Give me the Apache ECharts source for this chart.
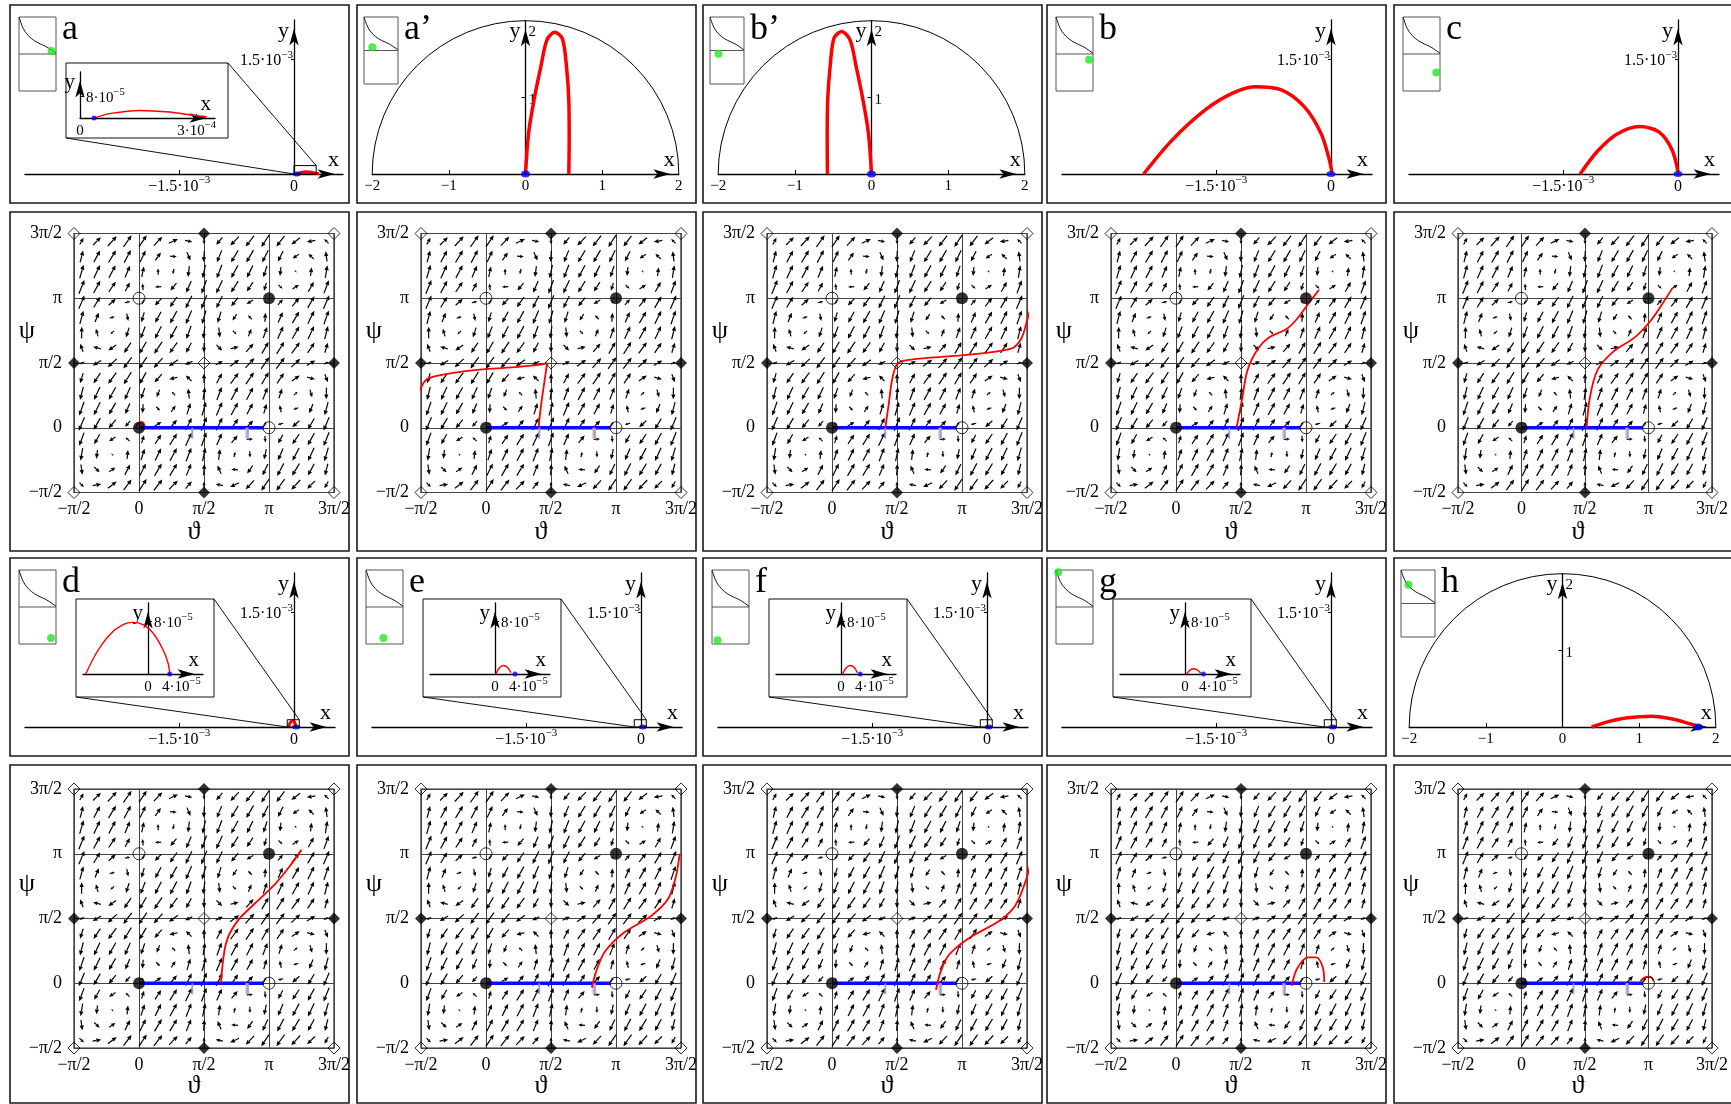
<!DOCTYPE html>
<html><head><meta charset="utf-8">
<script src="https://cdn.jsdelivr.net/npm/echarts@6/dist/echarts.min.js"></script>
<style>html,body{margin:0;padding:0;background:#fff}#c{width:1731px;height:1104px}</style>
</head><body><div id="c"></div><script>
const PI = Math.PI;
// ---------------- DATA ----------------
const panelLabels = ['a', 'a\u2019', 'b\u2019', 'b', 'c', 'd', 'e', 'f', 'g', 'h'];
const topType = ['zoomA', 'circle', 'circle', 'plain', 'plain', 'zoomD', 'zoomD', 'zoomD', 'zoomD', 'circle'];
// parameter mini-diagram (fractions of the box, y measured from top)
const paramCurve = [[0,0],[0.045,0.068],[0.117,0.158],[0.207,0.225],[0.342,0.293],[0.52,0.35],[0.75,0.405],[1,0.49]];
const paramMid = [[0,0.5],[1,0.5]];
const greenDot = [[0.88,0.46],[0.245,0.45],[0.25,0.55],[0.895,0.577],[0.9,0.75],[0.865,0.92],[0.47,0.92],[0.15,0.95],[0.06,0.03],[0.22,0.22]];
// top trajectories: b, c in units of 1e-3; a', b', h in plain units
const curveB = [[-2.45,0],[-2.08,0.44],[-1.64,0.84],[-1.30,1.05],[-1.0,1.14],[-0.65,1.10],[-0.35,0.88],[-0.13,0.53],[-0.02,0.18],[0.01,0.03]];
const curveC = [[-1.28,0],[-1.05,0.3],[-0.8,0.52],[-0.5,0.62],[-0.25,0.55],[-0.08,0.32],[0,0.03]];
const curveA1 = [[0,0],[0.04,0.53],[0.11,0.96],[0.2,1.4],[0.28,1.75],[0.38,1.85],[0.48,1.77],[0.535,1.40],[0.565,0.96],[0.57,0.44],[0.565,0]];
const curveB1 = [[0,0],[-0.04,0.53],[-0.11,0.96],[-0.2,1.4],[-0.28,1.75],[-0.39,1.86],[-0.49,1.77],[-0.54,1.40],[-0.572,0.96],[-0.578,0.44],[-0.575,0]];
const curveH = [[0.38,0],[0.6,0.07],[0.85,0.12],[1.16,0.14],[1.4,0.11],[1.6,0.06],[1.725,0.02]];
const blueTop = {1:[0,0], 2:[0,0], 3:[0,0], 4:[0,0], 9:[1.77,0]};
// zoomed insets: a in units of 1e-4, d-g in units of 1e-5
const insetCurve = {
  0: [[0.36,0],[0.8,0.17],[1.54,0.28],[2.3,0.22],[2.9,0.1],[3.26,0.04]],
  5: [[-7.46,0],[-6.18,3.19],[-4.59,5.97],[-3.0,7.49],[-1.8,7.85],[-0.6,7.49],[0.6,6.23],[1.8,3.69],[2.4,1.67],[2.6,0.1]],
  6: [[0.1,0],[0.5,0.9],[1.0,1.3],[1.5,1.0],[1.9,0.2]],
  7: [[0.2,0],[0.6,0.9],[1.1,1.3],[1.6,1.0],[1.95,0.2]],
  8: [[0.2,0],[0.6,0.6],[1.1,0.8],[1.6,0.5],[1.9,0.1]]
};
const insetBlue = {0:[0.36,0], 5:[2.6,0], 6:[2.4,0], 7:[2.3,0], 8:[2.2,0]};
const zoomBoxA = [0, 0.29, 0, 0.11];          // 1e-3
const zoomBoxD = [-0.088, 0.069, 0, 0.095];   // 1e-3
// phase-plane trajectories (units of pi)
const phaseCurve = [
  [[-0.026,-0.005],[-0.013,0.026],[0.013,0.046],[0.033,0.038],[0.044,0.013]],
  [[0.405,0],[0.42,0.147],[0.45,0.36],[0.47,0.50],[0.42,0.487],[0.25,0.47],[-0.087,0.445],[-0.38,0.40],[-0.47,0.36],[-0.53,0.23],[-0.59,0]],
  [[0.41,0],[0.436,0.18],[0.46,0.36],[0.487,0.465],[0.513,0.504],[0.577,0.522],[0.782,0.543],[1.038,0.563],[1.295,0.594],[1.397,0.62],[1.46,0.697],[1.5,0.826],[1.538,0.954],[1.57,1.0]],
  [[0.466,0],[0.51,0.23],[0.55,0.445],[0.634,0.615],[0.72,0.70],[0.847,0.76],[0.93,0.84],[1.016,0.955],[1.1,1.066]],
  [[0.513,0],[0.538,0.23],[0.598,0.445],[0.725,0.59],[0.895,0.70],[1.02,0.83],[1.108,0.955],[1.19,1.08]],
  [[0.63,0],[0.67,0.31],[0.757,0.48],[0.927,0.65],[1.05,0.77],[1.156,0.9],[1.25,1.03]],
  [[0.814,-0.035],[0.847,0.09],[0.915,0.245],[1.06,0.39],[1.27,0.52],[1.4,0.65],[1.46,0.82],[1.49,1.0]],
  [[0.80,-0.05],[0.836,0.09],[0.9,0.22],[1.056,0.35],[1.285,0.48],[1.41,0.6],[1.5,0.82],[1.54,1.0]],
  [[0.89,-0.02],[0.93,0.11],[1.016,0.2],[1.08,0.2],[1.13,0.12],[1.14,0.01]],
  [[0.936,0.014],[0.962,0.04],[1.0,0.053],[1.03,0.04],[1.04,0.014]]
];
const blueSegment = [[0,0],[0.96,0]];
const tickTheta = [0.41, 0.826, 0.838];
const tickColor = ['#88a4f0', '#f2a2aa', '#88a4f0'];
const tickDepth = -0.085;
const fixedFilledCircle = [[0,0],[1,1]];
const fixedOpenCircle = [[0,1],[1,0]];
const fixedFilledDiamond = [[0.5,-0.5],[0.5,1.5],[-0.5,0.5],[1.5,0.5]];
const fixedOpenDiamond = [[0.5,0.5],[-0.5,-0.5],[1.5,-0.5],[-0.5,1.5],[1.5,1.5]];
// direction field on a 17x17 lattice: rows from top (psi high) to bottom; angle in degrees, length in % of lattice step
const fieldAngle = [
 [62,45,48,55,56,47,25,-12,-89,-130,-134,-128,-123,-127,-142,-171,135],
 [76,62,59,62,65,55,-5,-67,-94,-112,-121,-120,-116,-117,-145,135,98],
 [74,65,62,67,78,92,-102,-97,-102,-111,-118,-116,-108,-96,-45,83,81],
 [68,62,56,62,95,-178,-129,-113,-110,-115,-122,-123,-107,-45,33,61,70],
 [67,59,42,14,-118,-133,-125,-116,-112,-116,-129,-149,135,49,50,60,67],
 [75,68,20,-78,-106,-118,-119,-113,-106,-107,-124,135,86,67,60,64,71],
 [89,106,-137,-108,-111,-117,-118,-110,-98,-84,-45,68,71,66,61,65,76],
 [110,164,-145,-124,-120,-124,-126,-118,-91,-45,13,49,60,58,54,56,73],
 [-158,-150,-137,-127,-125,-132,-144,-155,135,25,36,48,55,53,43,30,22],
 [-107,-124,-126,-122,-120,-131,-167,135,89,62,54,56,60,56,35,-16,-70],
 [-104,-115,-119,-114,-109,-112,135,96,82,70,62,63,69,72,43,-74,-91],
 [-109,-116,-120,-113,-94,-45,56,73,74,67,61,62,74,102,-160,-112,-105],
 [-113,-120,-130,-131,-45,31,51,64,68,64,55,47,62,-166,-138,-121,-113],
 [-110,-119,-147,135,73,57,58,65,70,67,51,2,-85,-118,-124,-118,-112],
 [-99,-97,135,84,72,64,62,69,78,83,78,-88,-102,-113,-118,-115,-106],
 [-82,-45,35,63,64,60,59,68,86,113,175,-125,-115,-118,-121,-118,-104],
 [-45,9,38,53,57,52,46,50,91,168,-155,-133,-124,-125,-132,-135,-118]
];
const fieldLength = [
 [53,75,89,96,94,83,67,50,43,65,83,93,96,90,75,59,42],
 [82,91,97,96,86,65,45,62,77,87,95,97,92,77,52,51,70],
 [96,99,96,87,72,43,38,75,92,98,98,92,81,60,16,60,86],
 [100,95,84,67,45,42,65,87,99,99,91,76,56,38,52,77,94],
 [97,85,65,38,35,65,84,96,100,92,75,53,23,52,75,91,99],
 [91,68,36,50,70,85,95,100,96,81,52,37,61,78,91,98,99],
 [79,53,34,69,88,96,98,94,86,68,34,54,80,93,97,96,91],
 [58,54,65,84,95,96,90,77,63,54,57,75,91,97,94,84,70],
 [36,66,83,94,96,89,76,54,0,54,76,89,96,94,83,66,36],
 [70,84,94,97,91,75,57,54,63,77,90,96,95,84,65,54,58],
 [91,96,97,93,80,54,34,68,86,94,98,96,88,69,34,53,79],
 [99,98,91,78,61,37,52,81,96,100,95,85,70,50,36,68,91],
 [99,91,75,52,23,53,75,92,100,96,84,65,35,38,65,85,97],
 [94,77,52,38,56,76,91,99,99,87,65,42,45,67,84,95,100],
 [86,60,16,60,81,92,98,98,92,75,38,43,72,87,96,99,96],
 [70,51,52,77,92,97,95,87,77,62,45,65,86,96,97,91,82],
 [42,59,75,90,96,93,83,65,43,50,67,83,94,96,89,75,53]
];
const fieldN = 17;

// ---------------- LAYOUT ----------------
const PL = [10, 357, 703, 1047, 1394];
const RT = [5, 558];
const PH_TOP = [228.5, 231];
const FONT = 'Liberation Serif';
const grid=[], xAxis=[], yAxis=[], series=[], graphic=[];
function cart(g, xa, ya){ const i=grid.length; grid.push(g); xa.gridIndex=i; ya.gridIndex=i; xAxis.push(xa); yAxis.push(ya); return i; }
function ser(i, s){ s.xAxisIndex=i; s.yAxisIndex=i; series.push(s); }
const richSup = { n:{fontFamily:FONT, fontSize:16, color:'#000', lineHeight:20, verticalAlign:'bottom'},
                  s:{fontFamily:FONT, fontSize:11, color:'#000', lineHeight:20, verticalAlign:'top'} };
const richSmall = { n:{fontFamily:FONT, fontSize:15, color:'#000', lineHeight:19, verticalAlign:'bottom'},
                  s:{fontFamily:FONT, fontSize:10.5, color:'#000', lineHeight:19, verticalAlign:'top'} };
const sci = (m,e) => '{n|'+m+'\u00b710}{s|'+e+'}';
const arrowLine = () => ({show:true, onZero:false, symbol:['none','arrow'], symbolSize:[7,17], symbolOffset:[0,-8.5], lineStyle:{color:'#000', width:1.3}});
const xName = (fs) => ({name:'x', nameLocation:'end', nameGap:-4, nameTextStyle:{fontFamily:FONT, fontSize:fs||22, color:'#000', align:'right', verticalAlign:'bottom', padding:[0,0,3,0]}});
const yName = (fs) => ({name:'y', nameLocation:'end', nameGap:0, nameTextStyle:{fontFamily:FONT, fontSize:fs||22, color:'#000', align:'right', verticalAlign:'top', padding:[0,5,0,0]}});
const lineS = (data, color, w, extra) => Object.assign({type:'line', data, symbol:'none', clip:false, smooth:0.3, lineStyle:{color, width:w}, silent:true, animation:false}, extra||{});
const dotS = (data, color, size, extra) => Object.assign({type:'scatter', data, symbol:'circle', symbolSize:size, itemStyle:{color}, clip:false, silent:true, animation:false}, extra||{});

// lattice of the direction field (lattice step = 2*pi/17, centred cells)
const fieldStep = 2*PI/fieldN;
const fieldData = [];
fieldAngle.forEach((row, r) => row.forEach((ang, i) => {
  const j = fieldN - 1 - r;
  fieldData.push([-PI/2 + (i+0.5)*fieldStep, -PI/2 + (j+0.5)*fieldStep, ang, fieldLength[r][i]/100*0.97*fieldStep]);
}));

function paramInset(L,T,k,small){
  const r = small ? [7,12,34,67] : [9,12,37,74];
  const i = cart({left:L+r[0], top:T+r[1], width:r[2], height:r[3], show:true, borderColor:'#555', borderWidth:1, backgroundColor:'transparent'},
    {type:'value', min:0, max:1, show:false}, {type:'value', min:0, max:1, inverse:true, show:false});
  ser(i, lineS(paramMid, '#555', 1, {smooth:false}));
  ser(i, lineS(paramCurve, '#111', 1, {smooth:0.4}));
  ser(i, dotS([greenDot[k]], '#22e622', 8, {z:5}));
  return r;
}

function mainPlot(L,T,k){
  const ox=284, oy=169, s=76.5, xt=(k===0?333:325), yt=15;
  return cart({left:L+15, top:T+yt, width:xt-15, height:oy-yt},
    Object.assign({type:'value', position:'bottom', min:-(ox-15)/s, max:(xt-ox)/s, axisLine:arrowLine(), splitLine:{show:false},
      axisTick:{show:true, customValues:[-1.5], inside:true, length:4, lineStyle:{color:'#000', width:1}},
      axisLabel:{show:true, customValues:[-1.5,0], margin:1, formatter:v=> Math.abs(v)<1e-9 ? '{n|0}' : sci('\u22121.5','\u22123'), rich:richSup}}, xName()),
    Object.assign({type:'value', position:'left', offset:-(ox-15), min:0, max:(oy-yt)/s, axisLine:arrowLine(), splitLine:{show:false},
      axisTick:{show:true, customValues:[1.5], inside:false, length:3, lineStyle:{color:'#000', width:1}},
      axisLabel:{show:true, customValues:[1.5], margin:1, formatter:()=>sci('1.5','\u22123'), rich:richSup}}, yName()));
}

function circlePlot(L,T){
  const cx=168.5, oy=169, R=153.3;
  const i = cart({left:L+cx-R, top:T+oy-R, width:2*R, height:R},
    Object.assign({type:'value', position:'bottom', min:-2, max:2, axisLine:arrowLine(), splitLine:{show:false},
      axisTick:{show:true, customValues:[-1,1], inside:true, length:4, lineStyle:{color:'#000'}},
      axisLabel:{show:true, customValues:[-2,-1,0,1,2], margin:5, fontFamily:FONT, fontSize:15, color:'#000', formatter:v=> v<0 ? '\u2212'+(-v) : ''+v}}, xName()),
    Object.assign({type:'value', position:'left', offset:-R, min:0, max:2, axisLine:arrowLine(), splitLine:{show:false},
      axisTick:{show:true, customValues:[1], inside:false, length:4, lineStyle:{color:'#000'}},
      axisLabel:{show:true, customValues:[1,2], inside:true, margin:3, formatter:v=> v>1.5 ? '{t|2}' : '{m|1}',
        rich:{t:{fontFamily:FONT, fontSize:15, color:'#000', padding:[22,0,0,0]}, m:{fontFamily:FONT, fontSize:15, color:'#000', padding:[6,0,0,0]}}}}, yName()));
  ser(i, {type:'custom', data:[[0,0,2]], clip:false, silent:true, animation:false, renderItem:(p,api)=>{
    const c=api.coord([api.value(0),api.value(1)]); const r=api.size([api.value(2),0])[0];
    return {type:'arc', shape:{cx:c[0], cy:c[1], r, startAngle:PI, endAngle:2*PI, clockwise:true}, style:{stroke:'#000', fill:null, lineWidth:1}};
  }});
  return i;
}

function zoomInset(L,T,k){
  let box, ox, oy, xt, yt, sx, sy, xtick, xlab, ytick, ylab, xmin;
  if (k===0){ box=[56,58,218,133]; ox=70; oy=113; xt=205; yt=67; sx=38.9; sy=27; xtick=3; xlab=sci('3','\u22124'); ytick=0.8; ylab=sci('8','\u22125'); xmin=0; }
  else { box=[66,41,204,139]; ox=138; oy=116; xt=193; yt=45; sx=8.35; sy=6.58; xtick=4; xlab=sci('4','\u22125'); ytick=8; ylab=sci('8','\u22125'); xmin=-(138-73)/8.35; }
  graphic.push({type:'rect', shape:{x:L+box[0], y:T+box[1], width:box[2]-box[0], height:box[3]-box[1]}, style:{fill:'none', stroke:'#111', lineWidth:1}, silent:true});
  const left = L + ox + xmin*sx;
  const i = cart({left, top:T+yt, width:L+xt-left, height:oy-yt},
    Object.assign({type:'value', position:'bottom', min:xmin, max:(xt-ox)/sx, axisLine:arrowLine(), splitLine:{show:false},
      axisTick:{show:true, customValues:[xtick], inside:true, length:4, lineStyle:{color:'#000'}},
      axisLabel:{show:true, customValues:[0,xtick], margin:2, formatter:v=> Math.abs(v)<1e-9 ? '{n|0}' : xlab, rich:richSmall}}, xName(21)),
    Object.assign({type:'value', position:'left', offset:xmin*sx, min:0, max:(oy-yt)/sy, axisLine:arrowLine(), splitLine:{show:false},
      axisTick:{show:true, customValues:[ytick], inside:true, length:4, lineStyle:{color:'#000'}},
      axisLabel:{show:true, customValues:[ytick], inside:true, margin:6, formatter:()=>ylab, rich:richSmall}}, yName(21)));
  ser(i, lineS(insetCurve[k], '#ff0000', 1.4, {z:3}));
  ser(i, dotS([insetBlue[k]], '#0000ff', 5, {z:4}));
  return {i, box};
}

const piLab = {'-1':'\u2212\u03c0/2','0':'0','1':'\u03c0/2','2':'\u03c0','3':'3\u03c0/2'};
function phasePlot(L,T,row,k){
  const ax = (m) => ({type:'value', min:-PI/2, max:3*PI/2, interval:PI/2, axisLine:{show:false, onZero:false}, axisTick:{show:false},
      splitLine:{show:true, lineStyle:{color:'#444', width:1}},
      axisLabel:{show:true, margin:m, fontFamily:FONT, fontSize:18, color:'#000', formatter:v=>piLab[String(Math.round(v/(PI/2)))]||''}});
  const i = cart({left:L+64, top:T+PH_TOP[row], width:260, height:259, show:true, borderColor:'#222', borderWidth:1.2, backgroundColor:'transparent'}, ax(8), ax(12));
  ser(i, {type:'custom', data:fieldData, clip:false, silent:true, animation:false, z:2, renderItem:(p,api)=>{
    const x=api.value(0), y=api.value(1), a=api.value(2)*PI/180, len=api.value(3);
    const dx=Math.cos(a)*len/2, dy=Math.sin(a)*len/2;
    const p0=api.coord([x-dx,y-dy]), p1=api.coord([x+dx,y+dy]);
    const vx=p1[0]-p0[0], vy=p1[1]-p0[1], Ln=Math.hypot(vx,vy); if (Ln<0.6) return null;
    const ux=vx/Ln, uy=vy/Ln, hl=Math.min(4.8, Ln*0.55), hw=hl*0.45;
    const b=[p1[0]-ux*hl, p1[1]-uy*hl];
    return {type:'group', children:[
      {type:'line', shape:{x1:p0[0],y1:p0[1],x2:b[0],y2:b[1]}, style:{stroke:'#000', lineWidth:1.2}},
      {type:'polygon', shape:{points:[[p1[0],p1[1]],[b[0]-uy*hw,b[1]+ux*hw],[b[0]+uy*hw,b[1]-ux*hw]]}, style:{fill:'#000'}}]};
  }});
  const toRad = arr => arr.map(q=>[q[0]*PI, q[1]*PI]);
  ser(i, lineS(toRad(blueSegment), '#0a0aff', 3.5, {z:3, smooth:false}));
  tickTheta.forEach((t,n)=> ser(i, lineS(toRad([[t,0],[t,tickDepth]]), tickColor[n], 1.8, {z:3, smooth:false})));
  ser(i, lineS(toRad(phaseCurve[k]), '#ff0000', 1.8, {z:4}));
  ser(i, dotS(toRad(fixedFilledCircle), '#000', 12, {z:6}));
  ser(i, {type:'scatter', data:toRad(fixedOpenCircle), symbol:'circle', symbolSize:12, itemStyle:{color:'rgba(0,0,0,0)', borderColor:'#000', borderWidth:1}, clip:false, silent:true, z:6, animation:false});
  ser(i, {type:'scatter', data:toRad(fixedFilledDiamond), symbol:'diamond', symbolSize:12, itemStyle:{color:'#000'}, clip:false, silent:true, z:6, animation:false});
  ser(i, {type:'scatter', data:toRad(fixedOpenDiamond), symbol:'diamond', symbolSize:12, itemStyle:{color:'rgba(255,255,255,0)', borderColor:'#000', borderWidth:1}, clip:false, silent:true, z:6, animation:false});
  return i;
}

const connectors = [];
panelLabels.forEach((lab,k)=>{
  const col=k%5, row=Math.floor(k/5), L=PL[col], T=RT[row];
  const H = row===0 ? 546 : 545;
  graphic.push({type:'rect', shape:{x:L, y:T, width:339, height:198}, style:{fill:'none', stroke:'#1a1a1a', lineWidth:1.6}, silent:true});
  graphic.push({type:'rect', shape:{x:L, y:T+207, width:339, height:H-207}, style:{fill:'none', stroke:'#1a1a1a', lineWidth:1.6}, silent:true});
  const type = topType[k];
  const r = paramInset(L,T,k, type==='circle');
  graphic.push({type:'text', x:L+r[0]+r[2]+6, y:T+25, style:{text:lab, font:'36px "Liberation Serif"', fill:'#000', align:'left', verticalAlign:'middle'}, silent:true});
  if (type==='circle'){
    const i = circlePlot(L,T);
    const c = k===1 ? curveA1 : (k===2 ? curveB1 : curveH);
    ser(i, lineS(c, '#ff0000', 3.5, {z:3}));
    ser(i, dotS([blueTop[k]], '#0000ff', [9,7], {z:4}));
  } else {
    const i = mainPlot(L,T,k);
    if (type==='plain'){
      ser(i, lineS(k===3?curveB:curveC, '#ff0000', 3.5, {z:3}));
      ser(i, dotS([blueTop[k]], '#0000ff', [9,6], {z:4}));
    } else {
      const f = k===0 ? 0.1 : 0.01;
      const zb = k===0 ? zoomBoxA : zoomBoxD;
      ser(i, lineS(insetCurve[k].map(q=>[q[0]*f,q[1]*f]), '#ff0000', 3, {z:3}));
      ser(i, dotS([[insetBlue[k][0]*f,0]], '#0000ff', [8,5], {z:4}));
      ser(i, lineS([[zb[0],zb[2]],[zb[1],zb[2]],[zb[1],zb[3]],[zb[0],zb[3]],[zb[0],zb[2]]], '#000', 1, {z:5, smooth:false}));
      const zi = zoomInset(L,T,k);
      connectors.push({gi:i, zb, L, T, box:zi.box});
    }
  }
  phasePlot(L,T,row,k);
  graphic.push({type:'text', x:L+17, y:T+326, style:{text:'\u03c8', font:'26px "Liberation Serif"', fill:'#000', align:'center', verticalAlign:'middle'}, silent:true});
  graphic.push({type:'text', x:L+184, y:T+(row===0?527:528), style:{text:'\u03d1', font:'26px "Liberation Serif"', fill:'#000', align:'center', verticalAlign:'middle'}, silent:true});
});

const chart = echarts.init(document.getElementById('c'), null, {width:1731, height:1104});
chart.setOption({animation:false, backgroundColor:'#fff', grid, xAxis, yAxis, series, graphic});
connectors.forEach(c=>{
  const tr = chart.convertToPixel({gridIndex:c.gi}, [c.zb[1], c.zb[3]]);
  const bl = chart.convertToPixel({gridIndex:c.gi}, [c.zb[0], c.zb[2]]);
  graphic.push({type:'line', shape:{x1:tr[0], y1:tr[1], x2:c.L+c.box[2], y2:c.T+c.box[1]}, style:{stroke:'#111', lineWidth:1}, silent:true});
  graphic.push({type:'line', shape:{x1:bl[0], y1:bl[1], x2:c.L+c.box[0], y2:c.T+c.box[3]}, style:{stroke:'#111', lineWidth:1}, silent:true});
});
chart.setOption({graphic});
</script></body></html>
